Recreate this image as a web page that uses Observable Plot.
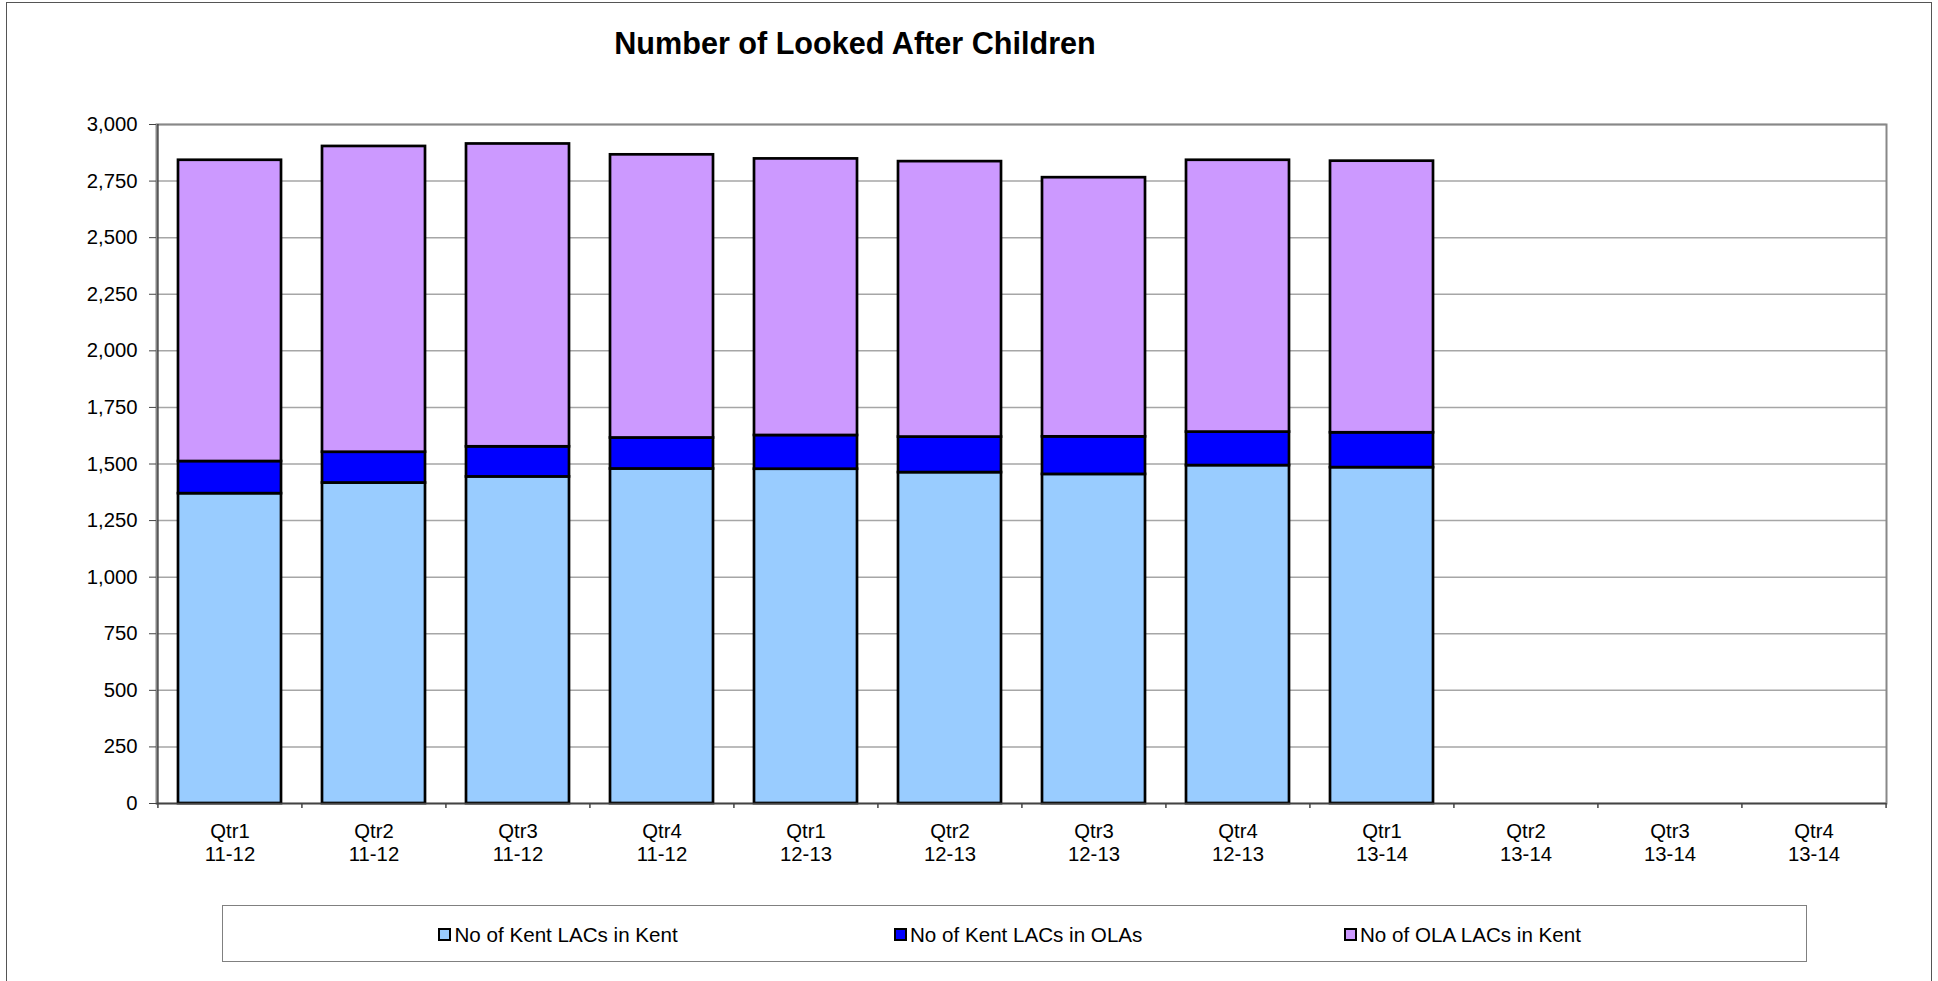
<!DOCTYPE html>
<html>
<head>
<meta charset="utf-8">
<script src="https://cdn.jsdelivr.net/npm/d3@7"></script>
<script src="https://cdn.jsdelivr.net/npm/@observablehq/plot@0.6"></script>
<style>
  body { margin: 0; background: #fff; font-family: "Liberation Sans", Arial, sans-serif; }
  #wrap { position: relative; width: 1938px; height: 981px; overflow: hidden; background: #fff; }
  #border { position: absolute; left: 6px; top: 2px; width: 1926px; height: 1000px; border: 1.5px solid #555; box-sizing: border-box; }
  #title { position: absolute; left: 0; width: 1710px; top: 28px; text-align: center; font-weight: bold; font-size: 30.6px; line-height: 30px; color: #000; }
  #chart { position: absolute; left: 0; top: 100px; }
  #legendBox { position: absolute; left: 222px; top: 905px; width: 1585px; height: 57px; border: 1.5px solid #808080; box-sizing: border-box; }
  .sw { position: absolute; top: 928px; width: 13px; height: 13px; border: 2px solid #000; box-sizing: border-box; }
  .lt { position: absolute; top: 925px; font-size: 20.6px; line-height: 20px; color: #000; white-space: nowrap; }
</style>
</head>
<body>
<div id="wrap">
  <div id="border"></div>
  <div id="title">Number of Looked After Children</div>
  <div id="chart"></div>
  <div id="legendBox"></div>
  <div id="legend"></div>
</div>
<script>
// ---- data ----
const quarters = ["Qtr1","Qtr2","Qtr3","Qtr4","Qtr1","Qtr2","Qtr3","Qtr4","Qtr1","Qtr2","Qtr3","Qtr4"];
const years = ["11-12","11-12","11-12","11-12","12-13","12-13","12-13","12-13","13-14","13-14","13-14","13-14"];
const seriesNames = ["No of Kent LACs in Kent", "No of Kent LACs in OLAs", "No of OLA LACs in Kent"];
const seriesColors = ["#99CCFF", "#0000FF", "#CC99FF"];
const kentInKent = [1369, 1416, 1443, 1478, 1477, 1462, 1454, 1493, 1484];
const kentInOLAs = [142, 136, 133, 137, 149, 157, 166, 148, 154];
const olaInKent  = [1331, 1351, 1338, 1251, 1222, 1217, 1145, 1201, 1200];
const yTicks = [0, 250, 500, 750, 1000, 1250, 1500, 1750, 2000, 2250, 2500, 2750, 3000];

// ---- build table ----
const categories = quarters.map((q, i) => q + "\n" + years[i]);
const seriesValues = [kentInKent, kentInOLAs, olaInKent];
const rows = [];
seriesValues.forEach((vals, s) => {
  vals.forEach((v, i) => rows.push({cat: categories[i], series: seriesNames[s], value: v}));
});

const W = 1938, H = 780, mL = 156, mR = 52, mT = 24, mB = 77;
const step = (W - mL - mR) / categories.length;

const chart = Plot.plot({
  width: W, height: H,
  marginLeft: mL, marginRight: mR, marginTop: mT, marginBottom: mB,
  style: {fontFamily: "Liberation Sans, Arial, sans-serif", fontSize: "20.3px", color: "#000", background: "transparent"},
  x: {domain: categories, paddingInner: 0.2857, paddingOuter: 0.1429, label: null},
  y: {domain: [0, 3000], label: null},
  color: {domain: seriesNames, range: seriesColors},
  marks: [
    Plot.gridY(yTicks, {stroke: "#a6a6a6", strokeOpacity: 1, strokeWidth: 1.5}),
    Plot.frame({stroke: "#888", strokeWidth: 2}),
    Plot.barY(rows, {x: "cat", y: "value", fill: "series", stroke: "#000", strokeWidth: 2.7}),
    Plot.ruleY([0], {stroke: "#444", strokeWidth: 1.5}),
    Plot.ruleX([categories[0]], {dx: -step / 2, stroke: "#444", strokeWidth: 1.5}),
    Plot.ruleX(categories, {dx: -step / 2, y1: 0, y2: 0, insetBottom: -5, stroke: "#444", strokeWidth: 1.5}),
    Plot.ruleX([categories[categories.length - 1]], {dx: step / 2, y1: 0, y2: 0, insetBottom: -5, stroke: "#444", strokeWidth: 1.5}),
    Plot.axisY(yTicks, {tickSize: 7, tickPadding: 12, tickFormat: d3.format(","), fontSize: 20.3, stroke: "#444", label: null}),
    Plot.axisX({tickSize: 0, tickPadding: 19, fontSize: 20.3, lineHeight: 1.1, label: null})
  ]
});
document.getElementById("chart").appendChild(chart);

// ---- legend ----
const legendSwatchX = [438, 893.5, 1343.5];
const legend = document.getElementById("legend");
seriesNames.forEach((name, i) => {
  const sw = document.createElement("div");
  sw.className = "sw";
  sw.style.left = legendSwatchX[i] + "px";
  sw.style.background = seriesColors[i];
  legend.appendChild(sw);
  const t = document.createElement("div");
  t.className = "lt";
  t.style.left = (legendSwatchX[i] + 16.5) + "px";
  t.textContent = name;
  legend.appendChild(t);
});
</script>
</body>
</html>
